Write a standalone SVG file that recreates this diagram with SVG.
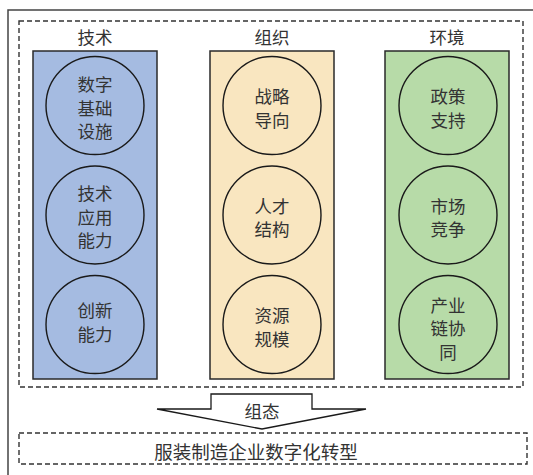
<svg xmlns="http://www.w3.org/2000/svg" width="533" height="475" viewBox="0 0 533 475">
<style>
.t{font-family:"Noto Sans CJK SC","Noto Sans CJK TC",sans-serif;font-size:17.5px;fill:#333;text-anchor:middle}
.col{stroke:#2a2a2a;stroke-width:1.5}
.c{fill:none;stroke:#1a1a1a;stroke-width:1.4}
.dash{fill:none;stroke:#333;stroke-width:1.4;stroke-dasharray:5 3}
</style>
<rect x="0" y="0" width="533" height="475" fill="#fff"/>
<rect x="8" y="10" width="540" height="480" fill="none" stroke="#444" stroke-width="1.5"/>
<rect class="dash" x="19" y="21" width="504" height="366"/>

<g id="col-tech">
<text class="t" x="95" y="44">技术</text>
<rect class="col" x="33" y="51" width="124" height="328" fill="#A5BBE1"/>
</g>
<g id="col-org">
<text class="t" x="272" y="44">组织</text>
<rect class="col" x="210" y="51" width="124" height="328" fill="#F9E6C0"/>
</g>
<g id="col-env">
<text class="t" x="447" y="44">环境</text>
<rect class="col" x="385" y="51" width="124" height="328" fill="#B7DBA8"/>
</g>

<g id="n-digital-infra">
<circle class="c" cx="95" cy="105.5" r="49"/>
<text class="t" x="95" y="91">数字</text><text class="t" x="95" y="114.5">基础</text><text class="t" x="95" y="138">设施</text>
</g>
<g id="n-tech-app">
<circle class="c" cx="95" cy="215" r="49"/>
<text class="t" x="95" y="200">技术</text><text class="t" x="95" y="223.5">应用</text><text class="t" x="95" y="247">能力</text>
</g>
<g id="n-innovation">
<circle class="c" cx="95" cy="324.5" r="49"/>
<text class="t" x="95" y="317">创新</text><text class="t" x="95" y="340.5">能力</text>
</g>

<g id="n-strategy">
<circle class="c" cx="272" cy="105.5" r="49"/>
<text class="t" x="272" y="103">战略</text><text class="t" x="272" y="126.5">导向</text>
</g>
<g id="n-talent">
<circle class="c" cx="272" cy="215" r="49"/>
<text class="t" x="272" y="212.5">人才</text><text class="t" x="272" y="236">结构</text>
</g>
<g id="n-resource">
<circle class="c" cx="272" cy="324.5" r="49"/>
<text class="t" x="272" y="322">资源</text><text class="t" x="272" y="345.5">规模</text>
</g>

<g id="n-policy">
<circle class="c" cx="448" cy="105.5" r="49"/>
<text class="t" x="448" y="103">政策</text><text class="t" x="448" y="126.5">支持</text>
</g>
<g id="n-market">
<circle class="c" cx="448" cy="215" r="49"/>
<text class="t" x="448" y="212.5">市场</text><text class="t" x="448" y="236">竞争</text>
</g>
<g id="n-chain">
<circle class="c" cx="448" cy="324.5" r="49"/>
<text class="t" x="448" y="311.5">产业</text><text class="t" x="448" y="335">链协</text><text class="t" x="448" y="358.5">同</text>
</g>

<g id="connectors">
<polygon points="211,394 312,394 312,409 366,409 262,429 157,409 211,409" fill="#fff" stroke="#1a1a1a" stroke-width="1.3" stroke-linejoin="miter"/>
<text class="t" x="262" y="418">组态</text>
</g>

<g id="n-result">
<rect class="dash" x="19" y="433" width="508" height="31"/>
<text class="t" x="256" y="459" style="font-size:18.5px">服装制造企业数字化转型</text>
</g>
</svg>
